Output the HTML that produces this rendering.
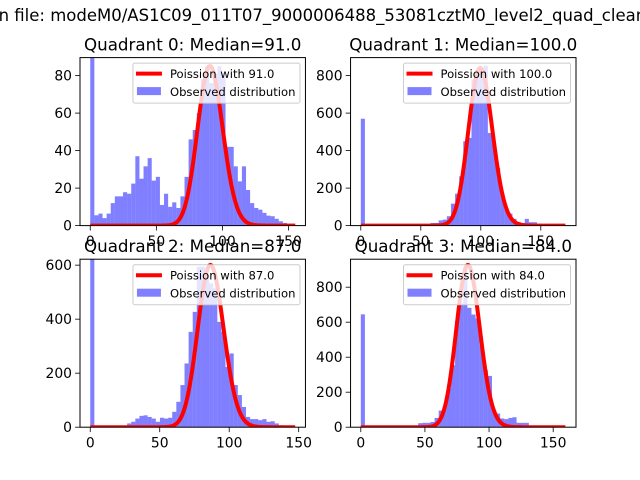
<!DOCTYPE html>
<html><head><meta charset="utf-8"><style>
html,body{margin:0;padding:0;background:#fff;width:640px;height:480px;overflow:hidden}
svg{display:block;font-family:"DejaVu Sans","Liberation Sans",sans-serif}
</style></head><body>
<svg id="fig" width="640" height="480" viewBox="0 0 640 480">
<text x="-6" y="21" font-size="16.5" fill="#000">in file: modeM0/AS1C09_011T07_9000006488_53081cztM0_level2_quad_clean.evt</text>
</svg>
<script>
// Quadrant 0
const q0Counts = [200,5.5,6.4,4,6.4,12,15.6,15.6,17.8,17,22.4,37,25,31.6,36,24,26,11,17,10,12.4,9.4,15.6,26,46,51,60,78,85,76,81,85,80,42,42,31.6,23.6,31.6,19,12,9.4,8.5,6.8,5.3,5,3.6,2.3,1.4,1,1];
const q0Lambda = 91, q0Peak = 85, q0Range = 155, q0Ymax = 89.6;
const q0YTicks = [0,20,40,60,80];
const q0XTicks = [0,50,100,150];
// Quadrant 1
const q1Counts = [570,0,0,0,0,0,0,0,0,0,0,0,0,0,2,5,8,14,14,28,32,50,117,170,263,450,468,780,830,840,853,494,440,308,174,94,64,36,20,14,36,18,18,10,5,3,2,1,1,1];
const q1Lambda = 100, q1Peak = 840, q1Range = 170.8, q1Ymax = 896;
const q1YTicks = [0,200,400,600,800];
const q1XTicks = [0,50,100,150];
// Quadrant 2
const q2Counts = [700,0,0,0,0,0,0,0,0,14,20,32,42,44,38,32,20,35,32,35,57,94,156,236,353,427,594,594,563,532,514,390,353,223,273,156,119,75,38,30,30,26,30,20,22,14,7,5,2,1];
const q2Lambda = 87, q2Peak = 600, q2Range = 147.5, q2Ymax = 622;
const q2YTicks = [0,200,400,600];
const q2XTicks = [0,50,100,150];
// Quadrant 3
const q3Counts = [645,0,0,0,0,0,0,0,0,0,0,0,0,4,23,25,25,30,53,95,116,221,354,606,707,916,682,644,621,469,326,293,97,78,50,46,53,57,25,25,25,0,0,0,0,0,0,0,0,0];
const q3Lambda = 84, q3Peak = 926, q3Range = 159.8, q3Ymax = 960;
const q3YTicks = [0,200,400,600,800];
const q3XTicks = [0,50,100,150];

const NS = "http://www.w3.org/2000/svg";
const svg = document.getElementById('fig');
function mk(tag, attrs, parent){ const e=document.createElementNS(NS,tag); for(const k in attrs) e.setAttribute(k,attrs[k]); (parent||svg).appendChild(e); return e; }

function lnPoisson(k, lam){
  function lgamma(z){
    const g=7, c=[0.99999999999980993,676.5203681218851,-1259.1392167224028,771.32342877765313,-176.61502916214059,12.507343278686905,-0.13857109526572012,9.9843695780195716e-6,1.5056327351493116e-7];
    if(z<0.5) return Math.log(Math.PI/Math.sin(Math.PI*z))-lgamma(1-z);
    z-=1; let x=c[0]; for(let i=1;i<g+2;i++) x+=c[i]/(z+i);
    const t=z+g+0.5; return 0.5*Math.log(2*Math.PI)+(z+0.5)*Math.log(t)-t+Math.log(x);
  }
  return k*Math.log(lam)-lam-lgamma(k+1);
}

function panel(idx, left, top, counts, lam, peak, range, ymax, yTicks, xTicks){
  const W=225.45, H=168;
  const g = mk('g',{});
  
  
  const xs = v => left + W*(v + 0.05*range)/(1.1*range);
  const ys = v => top + H - H*v/ymax;
  const clipId='clip'+idx;
  const cp = mk('clipPath',{id:clipId},g); mk('rect',{x:left,y:top,width:W,height:H},cp);
  const plot = mk('g',{'clip-path':'url(#'+clipId+')'},g);
  const bw = range/counts.length;
  counts.forEach((c,i)=>{
    const x0=xs(i*bw), x1=xs((i+1)*bw);
    const r = mk('rect',{x:x0,y:ys(c),width:x1-x0,height:Math.max(0,ys(0)-ys(c)),fill:'#0000ff','fill-opacity':0.5},plot);
    
    
  });
  const lpk = lnPoisson(lam,lam);
  let d='';
  for(let k=0;k<=range;k+=0.5){
    const v = peak*Math.exp(lnPoisson(k,lam)-lpk);
    d += (k===0?'M':'L')+xs(k).toFixed(2)+','+ys(v).toFixed(2);
  }
  const pl = mk('path',{d:d,fill:'none',stroke:'#ff0000','stroke-width':4,'stroke-linejoin':'round'},plot);
  
  
  mk('rect',{x:left,y:top,width:W,height:H,fill:'none',stroke:'#000','stroke-width':1},g);
  yTicks.forEach(t=>{
    const y=ys(t);
    mk('line',{x1:left-4.9,x2:left,y1:y,y2:y,stroke:'#000','stroke-width':0.8},g);
    const tx = mk('text',{x:left-8,y:y+5,'font-size':13.9,'text-anchor':'end'},g);
    tx.textContent=t;
    
    
  });
  xTicks.forEach(t=>{
    const x=xs(t);
    mk('line',{x1:x,x2:x,y1:top+H,y2:top+H+4.9,stroke:'#000','stroke-width':0.8},g);
    const tx = mk('text',{x:x,y:top+H+20.5,'font-size':13.9,'text-anchor':'middle'},g);
    tx.textContent=t;
    
    
  });
  const ti = mk('text',{x:left+W/2,y:top-7,'font-size':16.7,'text-anchor':'middle'},g);
  ti.textContent='Quadrant '+idx+': Median='+lam.toFixed(1);
  
  
  const lg = mk('g',{},g);
  
  
  const lx=left+W-172.5, ly=top+5.5;
  mk('rect',{x:lx,y:ly,width:167,height:40,rx:2,fill:'#fff','fill-opacity':0.8,stroke:'#ccc','stroke-width':1},lg);
  mk('line',{x1:lx+3,x2:lx+29,y1:ly+10.5,y2:ly+10.5,stroke:'#ff0000','stroke-width':4},lg);
  const t1=mk('text',{x:lx+37,y:ly+15,'font-size':11.6},lg); t1.textContent='Poission with '+lam.toFixed(1);
  
  
  mk('rect',{x:lx+4,y:ly+24,width:24,height:8,fill:'#0000ff','fill-opacity':0.5},lg);
  const t2=mk('text',{x:lx+37,y:ly+33,'font-size':11.6},lg); t2.textContent='Observed distribution';
  
  
}
panel(0, 80, 57.6, q0Counts, q0Lambda, q0Peak, q0Range, q0Ymax, q0YTicks, q0XTicks);
panel(1, 350.55, 57.6, q1Counts, q1Lambda, q1Peak, q1Range, q1Ymax, q1YTicks, q1XTicks);
panel(2, 80, 259.2, q2Counts, q2Lambda, q2Peak, q2Range, q2Ymax, q2YTicks, q2XTicks);
panel(3, 350.55, 259.2, q3Counts, q3Lambda, q3Peak, q3Range, q3Ymax, q3YTicks, q3XTicks);
</script>
</body></html>
